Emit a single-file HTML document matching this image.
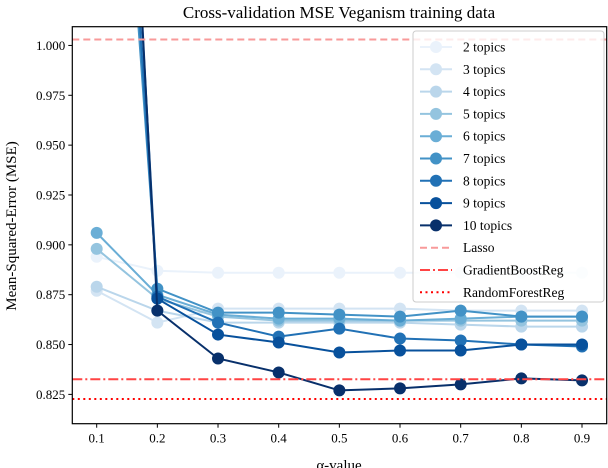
<!DOCTYPE html>
<html><head><meta charset="utf-8"><style>
body{margin:0;background:#fff;}
svg{display:block;font-family:"Liberation Serif","DejaVu Serif",serif;}
</style></head><body>
<svg id="chart" width="608" height="468" xmlns="http://www.w3.org/2000/svg">
<text x="339" y="18" font-size="17" text-anchor="middle">Cross-validation MSE Veganism training data</text>
<text transform="translate(16,226) rotate(-90)" font-size="15" text-anchor="middle">Mean-Squared-Error (MSE)</text>
<text x="339" y="470" font-size="15" text-anchor="middle">α-value</text>
<g id="plot"></g>
</svg>
<script>
const alphas=[0.1,0.2,0.3,0.4,0.5,0.6,0.7,0.8,0.9];
const xTicks=[0.1,0.2,0.3,0.4,0.5,0.6,0.7,0.8,0.9];
const yTicks=[0.825,0.850,0.875,0.900,0.925,0.950,0.975,1.000];
const seriesNames=["2 topics","3 topics","4 topics","5 topics","6 topics","7 topics","8 topics","9 topics","10 topics"];
const s2=[0.894,0.887,0.886,0.886,0.886,0.886,0.886,0.886,0.886];
const s3=[0.877,0.861,0.868,0.868,0.868,0.868,0.867,0.867,0.867];
const s4=[0.879,0.867,0.861,0.861,0.861,0.861,0.860,0.859,0.859];
const s5=[0.898,0.873,0.864,0.862,0.862,0.862,0.862,0.862,0.862];
const s6=[0.906,0.875,0.865,0.863,0.863,0.862,0.863,0.864,0.864];
const s7=[1.30,0.878,0.866,0.866,0.865,0.864,0.867,0.864,0.864];
const s8=[1.35,0.874,0.861,0.854,0.858,0.853,0.852,0.850,0.849];
const s9=[1.42,0.873,0.855,0.851,0.846,0.847,0.847,0.850,0.850];
const s10=[1.45,0.867,0.843,0.836,0.827,0.828,0.830,0.833,0.832];
const lassoVal=[1.003];
const gbVal=[0.8326];
const rfVal=[0.8227];
const allSeries=[s2,s3,s4,s5,s6,s7,s8,s9,s10];
const colors=["#eaf2fb","#d3e4f3","#bad6eb","#94c4df","#6aaed6","#4292c6","#2171b5","#08519c","#08306b"];
const NS="http://www.w3.org/2000/svg";
const L=72.3,R=606.7,T=26.7,B=423.7;
const xMin=0.0598,xMax=0.9407,yMin=0.8103,yMax=1.0094;
function xs(v){return L+(v-xMin)/(xMax-xMin)*(R-L);}
function ys(v){return B-(v-yMin)/(yMax-yMin)*(B-T);}
const plot=document.getElementById('plot');
function mk(tag,attrs,parent){const e=document.createElementNS(NS,tag);for(const k in attrs)e.setAttribute(k,attrs[k]);(parent||plot).appendChild(e);return e;}
const defs=mk('defs',{});
const cp=mk('clipPath',{id:'clip'},defs);mk('rect',{x:L,y:T,width:R-L,height:B-T},cp);
const data=mk('g',{'clip-path':'url(#clip)'});


allSeries.forEach((s,i)=>{
  const g=mk('g',{},data);
  
  
  mk('polyline',{points:s.map((v,j)=>xs(alphas[j])+','+ys(v)).join(' '),fill:'none',stroke:colors[i],'stroke-width':2},g);
  s.forEach((v,j)=>{const c=mk('circle',{cx:xs(alphas[j]),cy:ys(v),r:6,fill:colors[i]},g);
    
    });
});
const l1=mk('line',{x1:L,x2:R,y1:ys(lassoVal[0]),y2:ys(lassoVal[0]),stroke:'#f89a9a','stroke-width':2,'stroke-dasharray':'7,4'},data);


const l2=mk('line',{x1:L,x2:R,y1:ys(gbVal[0]),y2:ys(gbVal[0]),stroke:'#f44','stroke-width':2,'stroke-dasharray':'10,3,2,3'},data);


const l3=mk('line',{x1:L,x2:R,y1:ys(rfVal[0]),y2:ys(rfVal[0]),stroke:'#f00','stroke-width':2,'stroke-dasharray':'2,3.5'},data);


const frame=mk('rect',{x:L,y:T,width:R-L,height:B-T,fill:'none',stroke:'#000','stroke-width':1.2});


xTicks.forEach(v=>{mk('line',{x1:xs(v),x2:xs(v),y1:B,y2:B+4,stroke:'#000'});
  const t=mk('text',{x:xs(v),y:B+19,'font-size':13,'text-anchor':'middle'});t.textContent=v.toFixed(1);
  
  });
yTicks.forEach(v=>{mk('line',{x1:L-4,x2:L,y1:ys(v),y2:ys(v),stroke:'#000'});
  const t=mk('text',{x:L-7,y:ys(v)+4.5,'font-size':13,'text-anchor':'end'});t.textContent=v.toFixed(3);
  
  });
// legend
const lg=mk('g',{});


mk('rect',{x:413,y:31,width:191,height:271,rx:3,fill:'rgba(255,255,255,0.8)',stroke:'#ccc'},lg);
const names=seriesNames.concat(["Lasso","GradientBoostReg","RandomForestReg"]);
names.forEach((n,i)=>{
  const y=47+i*22.3;
  const e=mk('g',{},lg);
  
  
  if(i<9){mk('line',{x1:420,x2:452,y1:y,y2:y,stroke:colors[i],'stroke-width':2},e);mk('circle',{cx:436,cy:y,r:6,fill:colors[i]},e);}
  else{const st=[['#f89a9a','7,4'],['#f44','10,3,2,3'],['#f00','2,3.5']][i-9];
    mk('line',{x1:420,x2:452,y1:y,y2:y,stroke:st[0],'stroke-width':2,'stroke-dasharray':st[1]},e);}
  const t=mk('text',{x:463,y:y+4.5,'font-size':13.5},e);t.textContent=n;
});
</script>
</body></html>
